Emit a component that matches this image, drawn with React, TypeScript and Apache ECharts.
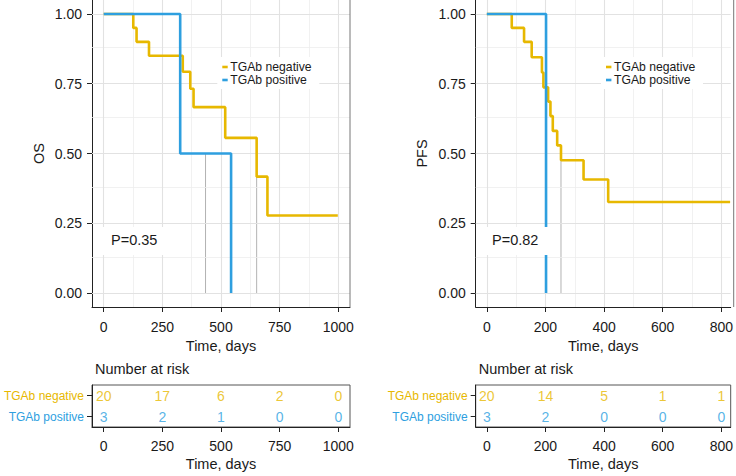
import React, { useEffect, useRef } from "react";
import * as echarts from "echarts";

// ---- data ----
const OS_NEG_T = [0, 126, 140, 193, 337, 369, 383, 518, 652, 698, 998];
const OS_NEG_S = [1, 0.95, 0.9, 0.85, 0.793, 0.732, 0.666, 0.556, 0.417, 0.278, 0.278];
const OS_POS_T = [0, 326, 543];
const OS_POS_S = [1, 0.5, 0];
const OS_MEDIANS = [434, 652];

const PFS_NEG_T = [0, 85, 127, 153, 188, 193, 209, 217, 225, 240, 253, 330, 414, 830];
const PFS_NEG_S = [1, 0.95, 0.9, 0.845, 0.79, 0.737, 0.686, 0.634, 0.581, 0.529, 0.476, 0.407, 0.326, 0.326];
const PFS_POS_T = [0, 202];
const PFS_POS_S = [1, 0];
const PFS_MEDIANS = [202, 253];

const OS_TICKS = [0, 250, 500, 750, 1000];
const OS_MINOR = [125, 375, 625, 875];
const PFS_TICKS = [0, 200, 400, 600, 800];
const PFS_MINOR = [100, 300, 500, 700];
const Y_TICKS = [0, 0.25, 0.5, 0.75, 1];
const Y_MINOR = [0.125, 0.375, 0.625, 0.875];

const GROUPS = ["TGAb negative", "TGAb positive"];
const OS_RISK_NEG = [20, 17, 6, 2, 0];
const OS_RISK_POS = [3, 2, 1, 0, 0];
const PFS_RISK_NEG = [20, 14, 5, 1, 1];
const PFS_RISK_POS = [3, 2, 0, 0, 0];

const P_OS = "P=0.35";
const P_PFS = "P=0.82";

const YEL = "#E7B800";
const BLU = "#2E9FDF";
const FONT = "Liberation Sans, Arial, Helvetica, sans-serif";
const TXT = "#1a1a1a";

export default function App() {
  const ref = useRef<HTMLDivElement>(null);
  useEffect(() => {
    const chart = echarts.init(ref.current!, null, { renderer: "svg" });

    const panels = [
      { left: 92, width: 258, min: -50, max: 1050, ticks: OS_TICKS, minor: OS_MINOR, yname: "OS" },
      { left: 475.7, width: 258, min: -38, max: 832, ticks: PFS_TICKS, minor: PFS_MINOR, yname: "PFS" },
    ];

    const grids: any[] = [];
    const xAxes: any[] = [];
    const yAxes: any[] = [];
    const series: any[] = [];

    panels.forEach((p, i) => {
      grids.push({ left: p.left, width: p.width, top: 0, height: 307, containLabel: false });
      grids.push({
        left: p.left, width: p.width, top: 385, height: 42, containLabel: false,
        show: true, borderColor: "#555", borderWidth: 1, backgroundColor: "#fff",
      });
      const xCommon = {
        type: "value", min: p.min, max: p.max,
        axisLine: { show: true, onZero: false, lineStyle: { color: "#222", width: 1 } },
        axisTick: { show: true, customValues: p.ticks, length: 5, lineStyle: { color: "#222" } },
        splitLine: { show: false },
        name: "Time, days", nameLocation: "middle",
        nameTextStyle: { fontSize: 14.5, color: TXT, fontFamily: FONT },
      };
      const xLabel = (margin: number) => ({
        customValues: p.ticks, fontSize: 14, color: TXT, fontFamily: FONT, margin,
        formatter: (v: number) => String(v),
      });
      xAxes.push({ ...xCommon, gridIndex: 2 * i, nameGap: 31, axisLabel: xLabel(13) });
      xAxes.push({ ...xCommon, gridIndex: 2 * i + 1, nameGap: 29, axisLabel: xLabel(12) });
      yAxes.push({
        type: "value", gridIndex: 2 * i, min: -0.05, max: 1.05,
        axisLine: { show: true, onZero: false, lineStyle: { color: "#222", width: 1 } },
        axisTick: { show: true, customValues: Y_TICKS, length: 5, lineStyle: { color: "#222" } },
        axisLabel: {
          customValues: Y_TICKS, fontSize: 14, color: TXT, fontFamily: FONT, margin: 10,
          formatter: (v: number) => v.toFixed(2),
        },
        splitLine: { show: false },
        name: p.yname, nameLocation: "middle", nameGap: 46,
        nameTextStyle: { fontSize: 14.5, color: TXT, fontFamily: FONT },
      });
      yAxes.push({
        type: "category", gridIndex: 2 * i + 1, data: GROUPS, inverse: true,
        axisLine: { show: true, onZero: false, lineStyle: { color: "#222", width: 1 } },
        axisTick: { show: true, alignWithLabel: true, length: 5, lineStyle: { color: "#222" } },
        axisLabel: {
          fontSize: 12, fontFamily: FONT, margin: 8,
          formatter: (v: string) => (v === GROUPS[0] ? `{n|${v}}` : `{p|${v}}`),
          rich: { n: { color: YEL, fontSize: 12, fontFamily: FONT }, p: { color: BLU, fontSize: 12, fontFamily: FONT } },
        },
        splitLine: { show: false },
      });

      const gl = (vals: number[], key: string, color: string, w: number) =>
        vals.map((v) => ({ [key]: v, lineStyle: { color, width: w, type: "solid" } }));
      series.push({
        type: "line", xAxisIndex: 2 * i, yAxisIndex: 2 * i, data: [], z: 1, silent: true,
        markLine: {
          silent: true, symbol: "none", label: { show: false }, animation: false,
          emphasis: { disabled: true },
          data: [
            ...gl(p.minor, "xAxis", "#EEEEEE", 0.8),
            ...gl(Y_MINOR, "yAxis", "#EEEEEE", 0.8),
            ...gl(p.ticks, "xAxis", "#E2E2E2", 1.1),
            ...gl(Y_TICKS, "yAxis", "#E2E2E2", 1.1),
          ],
        },
      });
    });

    const step = (ts: number[], ss: number[]) => ts.map((t, k) => [t, ss[k]]);
    const medianSeries = (meds: number[], xi: number) => {
      const maxMed = Math.max(...meds);
      series.push({
        type: "line", xAxisIndex: xi, yAxisIndex: xi, symbol: "none", z: 3, silent: true,
        data: [[0, 0.5], [maxMed, 0.5]], lineStyle: { color: "#555", width: 0.9 },
      });
      meds.forEach((m) =>
        series.push({
          type: "line", xAxisIndex: xi, yAxisIndex: xi, symbol: "none", z: 3, silent: true,
          data: [[m, 0.5], [m, 0]], lineStyle: { color: "#AAA", width: 0.9 },
        })
      );
    };
    medianSeries(OS_MEDIANS, 0);
    medianSeries(PFS_MEDIANS, 2);

    const curve = (ts: number[], ss: number[], color: string, xi: number) =>
      series.push({
        type: "line", xAxisIndex: xi, yAxisIndex: xi, step: "end", symbol: "none", z: 5,
        data: step(ts, ss), lineStyle: { color, width: 2.6 }, silent: true,
      });
    curve(OS_NEG_T, OS_NEG_S, YEL, 0);
    curve(OS_POS_T, OS_POS_S, BLU, 0);
    curve(PFS_NEG_T, PFS_NEG_S, YEL, 2);
    curve(PFS_POS_T, PFS_POS_S, BLU, 2);

    const risk = (ticks: number[], vals: number[], row: number, color: string, xi: number) =>
      series.push({
        type: "scatter", xAxisIndex: xi, yAxisIndex: xi, symbolSize: 1, z: 5, silent: true,
        itemStyle: { color: "rgba(0,0,0,0)" },
        data: ticks.map((t, k) => [t, row, vals[k]]),
        label: {
          show: true, position: "inside", fontSize: 14, color, fontFamily: FONT,
          formatter: (pp: any) => String(pp.value[2]),
        },
      });
    risk(OS_TICKS, OS_RISK_NEG, 0, YEL, 1);
    risk(OS_TICKS, OS_RISK_POS, 1, BLU, 1);
    risk(PFS_TICKS, PFS_RISK_NEG, 0, YEL, 3);
    risk(PFS_TICKS, PFS_RISK_POS, 1, BLU, 3);

    const legend = (x: number) => ({
      type: "group",
      children: [
        { type: "rect", shape: { x: x - 5, y: 57, width: 102, height: 32 }, style: { fill: "#fff" }, z: 10 },
        { type: "line", shape: { x1: x, y1: 67, x2: x + 5.4, y2: 67 }, style: { stroke: YEL, lineWidth: 2.6 }, z: 11 },
        { type: "line", shape: { x1: x, y1: 80, x2: x + 5.4, y2: 80 }, style: { stroke: BLU, lineWidth: 2.6 }, z: 11 },
        { type: "text", x: x + 8, y: 67, style: { text: GROUPS[0], fontSize: 12.2, fill: TXT, fontFamily: FONT, verticalAlign: "middle" }, z: 11 },
        { type: "text", x: x + 8, y: 80, style: { text: GROUPS[1], fontSize: 12.2, fill: TXT, fontFamily: FONT, verticalAlign: "middle" }, z: 11 },
      ],
    });
    const pLabel = (x: number, txt: string) => ({
      type: "group",
      children: [
        { type: "rect", shape: { x: x - 10, y: 227, width: 66, height: 28 }, style: { fill: "#fff" }, z: 10 },
        { type: "text", x, y: 240, style: { text: txt, fontSize: 14.5, fill: TXT, fontFamily: FONT, verticalAlign: "middle" }, z: 11 },
      ],
    });

    chart.setOption({
      animation: false,
      backgroundColor: "#fff",
      grid: grids,
      xAxis: xAxes,
      yAxis: yAxes,
      series,
      graphic: [
        legend(222.3),
        legend(606),
        pLabel(111, P_OS),
        pLabel(492, P_PFS),
        { type: "line", shape: { x1: 350, y1: 0, x2: 350, y2: 307 }, style: { stroke: "#777", lineWidth: 1 }, z: 12 },
        { type: "line", shape: { x1: 733.7, y1: 0, x2: 733.7, y2: 307 }, style: { stroke: "#777", lineWidth: 1 }, z: 12 },
        { type: "text", x: 95, y: 369.3, style: { text: "Number at risk", fontSize: 14.5, fill: TXT, fontFamily: FONT, verticalAlign: "middle" } },
        { type: "text", x: 478.7, y: 369.3, style: { text: "Number at risk", fontSize: 14.5, fill: TXT, fontFamily: FONT, verticalAlign: "middle" } },
      ],
    });
    return () => chart.dispose();
  }, []);
  return <div ref={ref} style={{ position: "fixed", left: 0, top: 0, width: 736, height: 476 }} />;
}
